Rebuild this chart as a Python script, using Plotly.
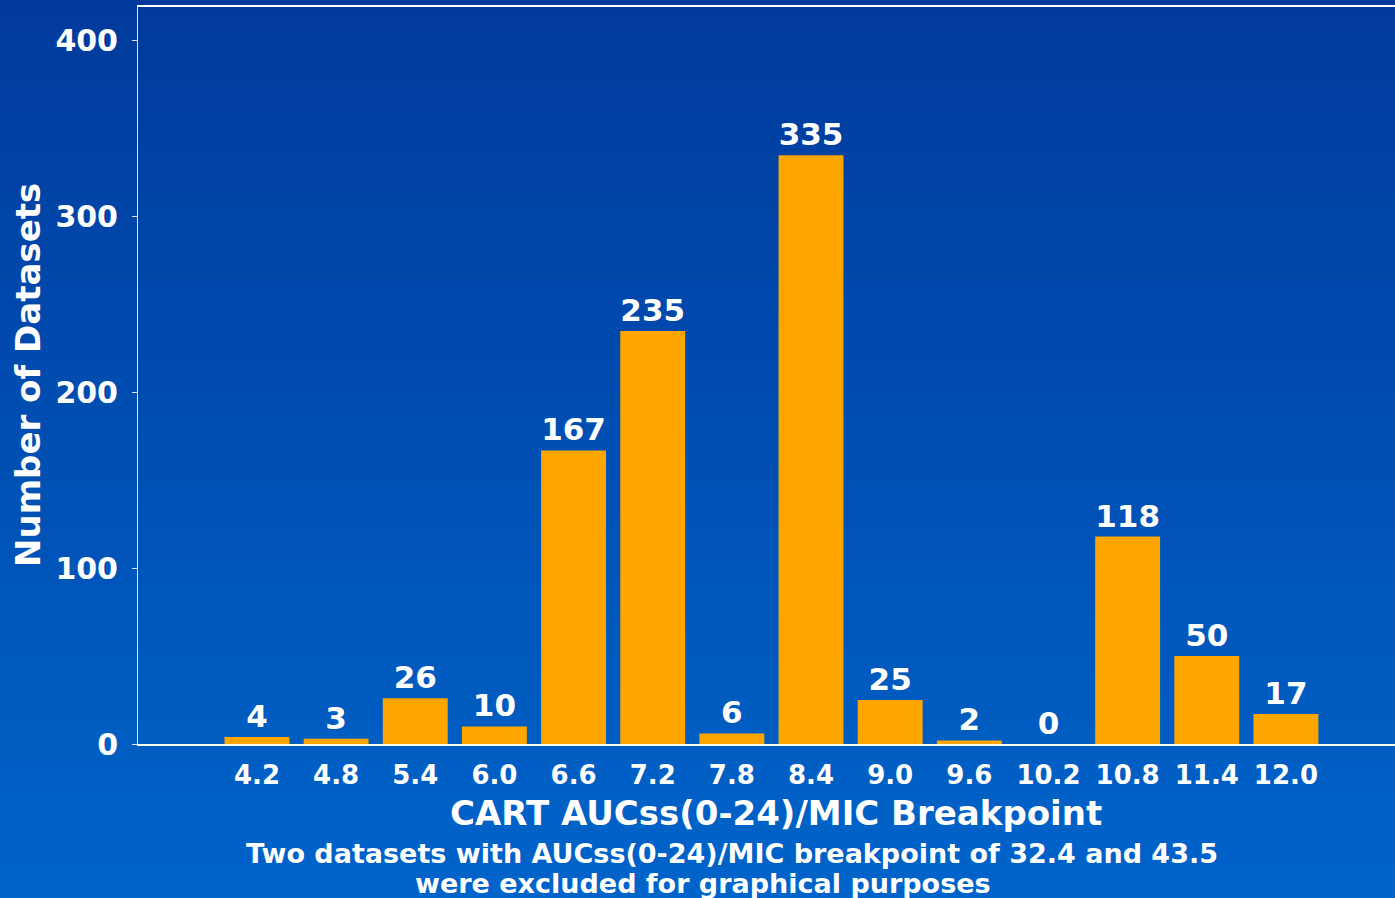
import plotly.graph_objects as go

categories = ["4.2", "4.8", "5.4", "6.0", "6.6", "7.2", "7.8", "8.4", "9.0", "9.6", "10.2", "10.8", "11.4", "12.0"]
counts = [4, 3, 26, 10, 167, 235, 6, 335, 25, 2, 0, 118, 50, 17]
y_ticks = [0, 100, 200, 300, 400]

FONT = "DejaVu Sans"
W, H = 1395, 898
L, R, T, B = 138, 0, 7, 154
pw, ph = W - L - R, H - T - B

fig = go.Figure()
fig.add_trace(go.Bar(
    x=categories, y=counts,
    marker=dict(color="#FFA500", line=dict(width=0)),
    text=[str(v) for v in counts], textposition="outside",
    textfont=dict(family=FONT, size=31, color="white", weight="bold"),
    cliponaxis=False, width=0.82,
))

# vertical gradient background
n = 80
top = (0, 58, 156)
bot = (0, 100, 202)
shapes = []
y0p = -B / ph
y1p = 1 + T / ph
for i in range(n):
    f = i / (n - 1)
    c = tuple(int(round(top[k] + (bot[k] - top[k]) * f)) for k in range(3))
    ya = y1p - (y1p - y0p) * i / n
    yb = y1p - (y1p - y0p) * (i + 1) / n
    shapes.append(dict(type="rect", xref="paper", yref="paper",
                       x0=-L / pw - 0.01, x1=1.01, y0=yb - 0.002, y1=ya,
                       fillcolor="rgb(%d,%d,%d)" % c, line=dict(width=0), layer="below"))

annotations = [
    dict(text="<b>CART AUCss(0-24)/MIC Breakpoint</b>", xref="paper", yref="paper",
         x=(776 - L) / pw, y=0, yshift=-(813 - 744), xanchor="center", yanchor="middle",
         showarrow=False, font=dict(family=FONT, size=34, color="white")),
    dict(text="<b>Two datasets with AUCss(0-24)/MIC breakpoint of 32.4 and 43.5</b>", xref="paper", yref="paper",
         x=(732 - L) / pw, y=0, yshift=-(853 - 744), xanchor="center", yanchor="middle",
         showarrow=False, font=dict(family=FONT, size=27, color="white"), borderpad=0),
    dict(text="<b>were excluded for graphical purposes</b>", xref="paper", yref="paper",
         x=(703 - L) / pw, y=0, yshift=-(883 - 744), xanchor="center", yanchor="middle",
         showarrow=False, font=dict(family=FONT, size=27, color="white"), borderpad=0),
    dict(text="<b>Number of Datasets</b>", xref="paper", yref="paper",
         x=0, xshift=28 - L, y=(744 - 375) / ph, xanchor="center", yanchor="middle",
         textangle=-90, showarrow=False, font=dict(family=FONT, size=34, color="white")),
]

fig.update_layout(
    width=W, height=H,
    margin=dict(l=L, r=R, t=T, b=B, pad=0),
    paper_bgcolor="rgb(0,80,180)",
    plot_bgcolor="rgba(0,0,0,0)",
    showlegend=False,
    shapes=shapes,
    annotations=annotations,
    xaxis=dict(
        type="category", range=[-1.503, 14.378],
        showline=True, linecolor="white", linewidth=1.5, mirror=True,
        ticks="", showgrid=False, zeroline=False,
        tickfont=dict(family=FONT, size=26, color="white", weight="bold"),
        ticklabelstandoff=7,
    ),
    yaxis=dict(
        range=[0, 419.3], tickvals=y_ticks,
        showline=True, linecolor="#e0e6f0", linewidth=1,
        ticks="outside", ticklen=5, tickcolor="#e0e6f0", tickwidth=1,
        showgrid=False, zeroline=False,
        tickfont=dict(family=FONT, size=30, color="white", weight="bold"),
        ticklabelstandoff=8,
    ),
)

fig.write_html("out.html")
